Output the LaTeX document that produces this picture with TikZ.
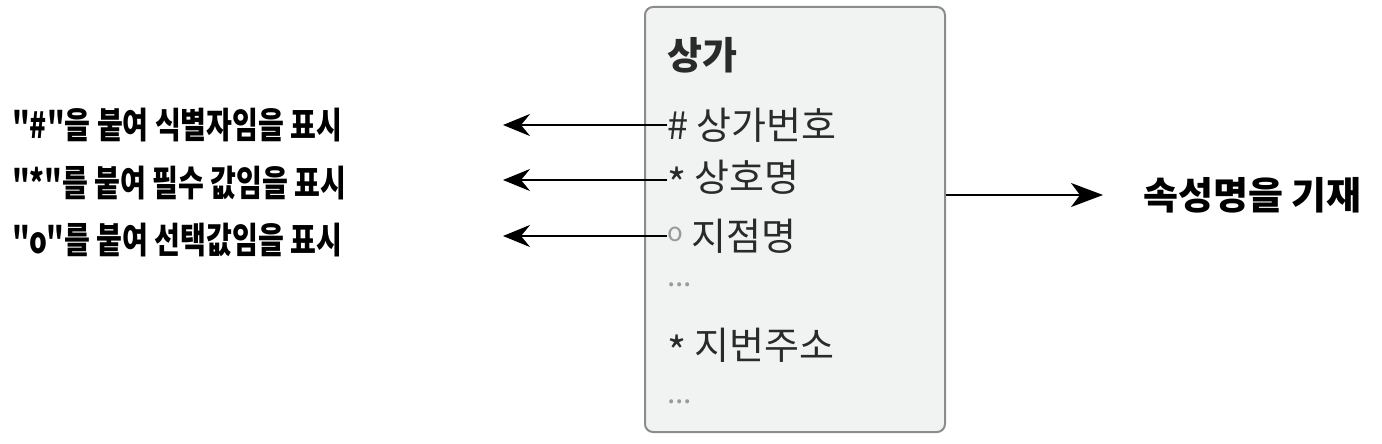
\documentclass[tikz,border=0pt]{standalone}
\usepackage{fontspec}
\setmainfont{Noto Sans CJK KR}
\newfontfamily\lbfont[FakeStretch=0.78]{Noto Sans CJK KR}
\usetikzlibrary{arrows.meta,calc}
\definecolor{boxfill}{HTML}{F1F2F2}
\definecolor{boxline}{HTML}{8C8C8C}
\definecolor{itemtext}{HTML}{2A2A2A}
\definecolor{dotgray}{HTML}{9A9A9A}
\tikzset{
  lefttext/.style={anchor=west,inner sep=0pt,font=\lbfont\bfseries\fontsize{36}{40}\selectfont},
  righttext/.style={anchor=west,inner sep=0pt,font=\bfseries\fontsize{38}{44}\selectfont},
  item/.style={anchor=west,inner sep=0pt,text=itemtext,font=\fontsize{38}{42}\selectfont},
  dots/.style={anchor=west,inner sep=0pt,text=dotgray,font=\fontsize{30}{34}\selectfont},
  entbox/.style={draw=boxline,line width=2pt,fill=boxfill,rounded corners=8pt,minimum width=300pt,minimum height=425pt,inner sep=0pt},
  larrow/.style={line width=2.6pt,-{Stealth[length=27pt,width=22pt,inset=9pt]}},
  rarrow/.style={line width=2pt,-{Stealth[length=32pt,width=24pt,inset=9pt]}}
}
\newcommand\astmark{\raisebox{-0.2em}{\fontsize{41}{41}\selectfont *}}
\begin{document}
\begin{tikzpicture}[x=1pt,y=-1pt]
\useasboundingbox (0,0) rectangle (1382,444);
\node[entbox] (box) at (795,219.5) {};
\node[item,font=\bfseries\fontsize{38}{42}\selectfont] (title) at (667,55) {상가};
\node[item] (a1) at (667,125) {\# 상가번호};
\node[item] (a2) at (667,180) {\astmark\ 상호명};
\node[item] (a3) at (667,236) {\raisebox{0.22em}{\color{dotgray}\fontsize{26}{28}\selectfont o} 지점명};
\node[dots] (d1) at (667,285) {...};
\node[item] (a4) at (667,348) {\astmark\ 지번주소};
\node[dots] (d2) at (667,402) {...};
\node[lefttext] (l1) at (12,125) {"\#"을 붙여 식별자임을 표시};
\node[lefttext] (l2) at (12,183) {"*"를 붙여 필수 값임을 표시};
\node[lefttext] (l3) at (12,240) {"o"를 붙여 선택값임을 표시};
\node[righttext] (r1) at (1143,195) {속성명을 기재};
\coordinate (tipx) at (503,0);
\draw[larrow] (a1.west) -- (a1.west -| tipx);
\draw[larrow] (a2.west) -- (a2.west -| tipx);
\draw[larrow] (a3.west) -- (a3.west -| tipx);
\draw[rarrow] (box.east |- r1.west) -- ([xshift=-40pt]r1.west);
\end{tikzpicture}
\end{document}
